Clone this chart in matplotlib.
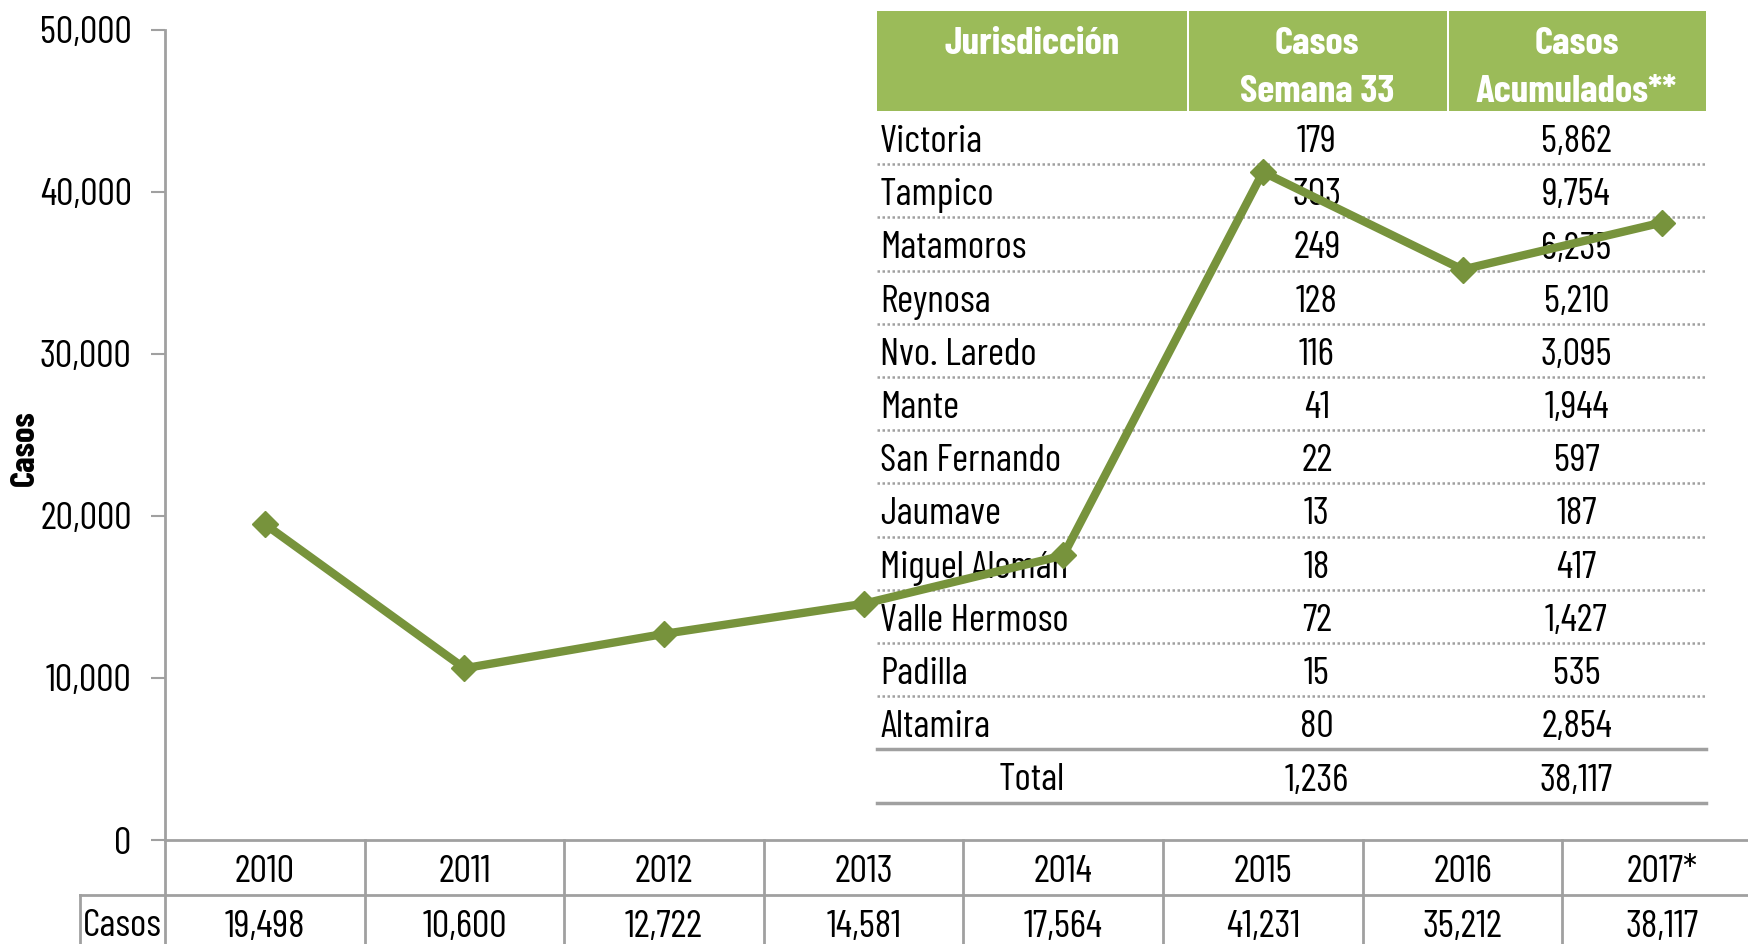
import numpy as np
import matplotlib
matplotlib.use("Agg")
import matplotlib.pyplot as plt
from matplotlib.patches import Rectangle
from matplotlib.lines import Line2D
import matplotlib.transforms as mtransforms

plt.rcParams['font.family'] = ['Saira Extra Condensed', 'Barlow Condensed', 'DejaVu Sans']

# data
years = ["2010", "2011", "2012", "2013", "2014", "2015", "2016", "2017*"]
casos = [19498, 10600, 12722, 14581, 17564, 41231, 35212, 38117]
casos_lbl = ["19,498", "10,600", "12,722", "14,581", "17,564", "41,231", "35,212", "38,117"]

jurisdicciones = ["Victoria", "Tampico", "Matamoros", "Reynosa", "Nvo. Laredo", "Mante",
                  "San Fernando", "Jaumave", "Miguel Alemán", "Valle Hermoso", "Padilla", "Altamira"]
semana33 = ["179", "303", "249", "128", "116", "41", "22", "13", "18", "72", "15", "80"]
acumulados = ["5,862", "9,754", "6,235", "5,210", "3,095", "1,944", "597", "187", "417",
              "1,427", "535", "2,854"]
total_sem = "1,236"
total_acum = "38,117"
headers = [["Jurisdicción"], ["Casos", "Semana 33"], ["Casos", "Acumulados**"]]

W, H = 1748, 944
GREEN = "#9BBB59"
LINE = "#77933C"
GRAY = "#A0A0A0"
FS = 28
DY = 5  # text nudge down, px

fig = plt.figure(figsize=(W / 100, H / 100), dpi=100)


def fx(px):
    return px / W


def fy(py):
    return 1 - py / H


# axes runs a bit past the right edge, like the original
ax = fig.add_axes([fx(165), fy(840), fx(1762 - 165), fy(30) - fy(840)])
x = np.arange(len(years))
ax.plot(x, casos, color=LINE, lw=6, marker="D", ms=13, zorder=6, clip_on=False)
ax.set_xlim(-0.5, len(years) - 0.5)
ax.set_ylim(0, 50000)
ax.set_yticks(np.arange(0, 50001, 10000))
ax.set_yticklabels([f"{v:,}" for v in range(0, 50001, 10000)], fontsize=FS)
ax.set_xticks([])
ax.tick_params(axis="y", length=10, width=1.5, color=GRAY, pad=14)
for s in ["top", "right"]:
    ax.spines[s].set_visible(False)
for s in ["left", "bottom"]:
    ax.spines[s].set_color(GRAY)
    ax.spines[s].set_linewidth(2)
ax.text(fx(25), fy(448), "Casos", transform=fig.transFigure, rotation=90, ha="center", va="center",
        fontsize=25, fontweight="bold", clip_on=False)

# bottom data table
bt = mtransforms.blended_transform_factory(ax.transData, fig.transFigure)
ft = fig.transFigure
for k in range(len(years) + 1):
    ax.add_artist(Line2D([k - 0.5, k - 0.5], [fy(840), fy(944)], transform=bt,
                         color=GRAY, lw=2, clip_on=False))
ax.add_artist(Line2D([fx(80), 1], [fy(895), fy(895)], transform=ft, color=GRAY, lw=2, clip_on=False))
ax.add_artist(Line2D([fx(80), fx(80)], [fy(895), fy(944)], transform=ft, color=GRAY, lw=2, clip_on=False))
for i, (yr, lbl) in enumerate(zip(years, casos_lbl)):
    ax.text(i, fy(867 + DY), yr, transform=bt, ha="center", va="center", fontsize=FS, clip_on=False)
    ax.text(i, fy(922 + DY), lbl, transform=bt, ha="center", va="center", fontsize=FS, clip_on=False)
ax.text(fx(122), fy(922 + DY), "Casos", transform=ft, ha="center", va="center", fontsize=FS, clip_on=False)

# inset table
cols = [877, 1187, 1447, 1706]
top_h, bot_h = 11, 111
row_h = 53.2
for c in range(3):
    ax.add_artist(Rectangle((fx(cols[c] + (2 if c else 0)), fy(bot_h)),
                            fx(cols[c + 1] - cols[c] - (2 if c else 0)), fy(top_h) - fy(bot_h),
                            transform=ft, facecolor=GREEN, edgecolor="none", clip_on=False, zorder=2))
    cx = (cols[c] + cols[c + 1]) / 2
    for j, line in enumerate(headers[c]):
        ax.text(fx(cx), fy(39 + 48 * j + DY), line, transform=ft, ha="center", va="center",
                color="white", fontsize=FS, fontweight="bold", clip_on=False, zorder=3)

rows = list(zip(jurisdicciones, semana33, acumulados)) + [("Total", total_sem, total_acum)]
for i, (name, s, a) in enumerate(rows):
    yc = bot_h + row_h * (i + 0.5) + DY
    if name == "Total":
        ax.text(fx((cols[0] + cols[1]) / 2), fy(yc), name, transform=ft, ha="center", va="center",
                fontsize=FS, clip_on=False, zorder=3)
    else:
        ax.text(fx(880), fy(yc), name, transform=ft, ha="left", va="center",
                fontsize=FS, clip_on=False, zorder=3)
    ax.text(fx((cols[1] + cols[2]) / 2), fy(yc), s, transform=ft, ha="center", va="center",
            fontsize=FS, clip_on=False, zorder=3)
    ax.text(fx((cols[2] + cols[3]) / 2), fy(yc), a, transform=ft, ha="center", va="center",
            fontsize=FS, clip_on=False, zorder=3)
    yb = bot_h + row_h * (i + 1)
    if i < len(jurisdicciones) - 1:
        ax.add_artist(Line2D([fx(cols[0]), fx(cols[3])], [fy(yb), fy(yb)], transform=ft,
                             color=GRAY, lw=1.8, ls=(0, (1, 1)), clip_on=False, zorder=2))
    else:
        ax.add_artist(Line2D([fx(cols[0]), fx(cols[3])], [fy(yb), fy(yb)], transform=ft,
                             color=GRAY, lw=2.5, clip_on=False, zorder=2))

fig.savefig("out.png", dpi=100)
